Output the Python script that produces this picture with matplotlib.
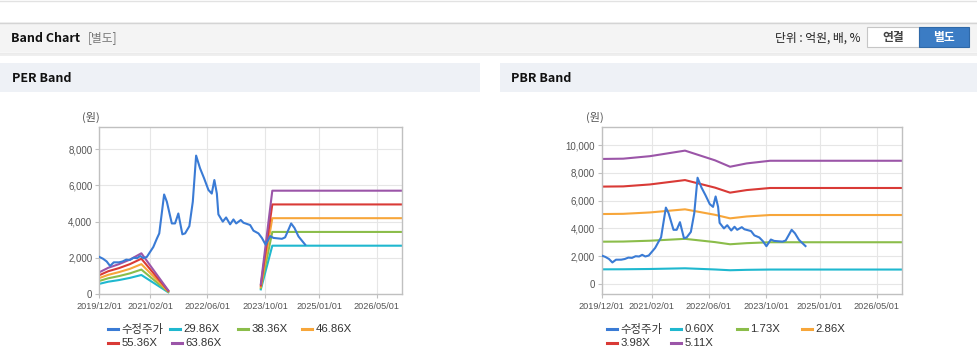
import matplotlib
matplotlib.use("Agg")
import matplotlib.pyplot as plt
import matplotlib.dates as mdates
from matplotlib.patches import Rectangle
from matplotlib.lines import Line2D
from matplotlib.ticker import FuncFormatter
import pandas as pd

plt.rcParams['font.family'] = ['Liberation Sans', 'Noto Sans CJK KR', 'DejaVu Sans']

# ---------------- data ----------------
price_dates = ["2019-12-01", "2020-01-01", "2020-02-01", "2020-03-01", "2020-04-01", "2020-05-15",
               "2020-06-15", "2020-07-15", "2020-08-15", "2020-09-15", "2020-10-15", "2020-11-10",
               "2020-12-07", "2021-01-05", "2021-01-25", "2021-03-01", "2021-03-30", "2021-04-20",
               "2021-05-31", "2021-06-23", "2021-08-04", "2021-08-31", "2021-09-28", "2021-11-01",
               "2021-11-24", "2021-12-30", "2022-01-28", "2022-02-25", "2022-03-30", "2022-05-03",
               "2022-06-09", "2022-07-07", "2022-07-29", "2022-08-19", "2022-09-01", "2022-10-08",
               "2022-11-05", "2022-12-09", "2023-01-06", "2023-01-29", "2023-03-09", "2023-03-31",
               "2023-05-27", "2023-06-24", "2023-08-05", "2023-09-03", "2023-10-05", "2023-11-12",
               "2023-12-10", "2024-02-19", "2024-03-17", "2024-04-14", "2024-05-07", "2024-06-04",
               "2024-07-08", "2024-09-02"]
price_values = [2050, 1950, 1800, 1550, 1750, 1750,
                1800, 1900, 1880, 2000, 1980, 2100,
                1980, 2050, 2250, 2600, 3050, 3350,
                5500, 5100, 3900, 3900, 4450, 3300,
                3350, 3750, 5100, 7650, 6950, 6400,
                5750, 5550, 6300, 5550, 4400, 4000,
                4230, 3850, 4120, 3900, 4090, 3940,
                3810, 3500, 3350, 3100, 2720, 3200,
                3100, 3050, 3130, 3550, 3900, 3650,
                3180, 2730]

per_labels = ["29.86X", "38.36X", "46.86X", "55.36X", "63.86X"]
per_dates_a = ["2019-12-01", "2020-02-15", "2020-05-15", "2020-08-15", "2020-11-20", "2021-07-05"]
per_a_29 = [560, 680, 770, 890, 1050, 95]
per_a_38 = [720, 870, 990, 1140, 1350, 120]
per_a_46 = [880, 1060, 1210, 1390, 1650, 150]
per_a_55 = [1040, 1260, 1430, 1650, 1950, 175]
per_a_63 = [1200, 1450, 1650, 1900, 2250, 200]
per_dates_b = ["2023-08-25", "2023-11-30", "2026-12-01"]
per_b_29 = [255, 2670, 2670]
per_b_38 = [325, 3430, 3430]
per_b_46 = [400, 4190, 4190]
per_b_55 = [470, 4950, 4950]
per_b_63 = [545, 5710, 5710]

pbr_labels = ["0.60X", "1.73X", "2.86X", "3.98X", "5.11X"]
pbr_dates = ["2019-12-01", "2020-06-01", "2021-01-15", "2021-11-10", "2022-07-24",
             "2022-11-29", "2023-04-20", "2023-11-05", "2026-12-01"]
pbr_060 = [1055, 1060, 1080, 1130, 1045, 990, 1020, 1040, 1040]
pbr_173 = [3045, 3055, 3115, 3250, 3015, 2860, 2940, 3005, 3005]
pbr_286 = [5035, 5050, 5150, 5375, 4980, 4725, 4860, 4965, 4965]
pbr_398 = [7010, 7025, 7165, 7480, 6935, 6575, 6760, 6910, 6910]
pbr_511 = [9000, 9020, 9200, 9600, 8900, 8440, 8680, 8870, 8870]

x_ticks = ["2019/12/01", "2021/02/01", "2022/06/01", "2023/10/01", "2025/01/01", "2026/05/01"]

# ---------------- style ----------------
C_PRICE = "#3a7bd5"
C_BANDS = ["#1fb8cf", "#8bbd4a", "#f7a63a", "#d93a36", "#9b55a8"]

W, H = 978, 361
fig = plt.figure(figsize=(W / 100, H / 100), dpi=100)
fig.patch.set_facecolor("white")


def fx(x):
    return x / W


def fy(y):
    return 1 - y / H


def rect(x0, y0, x1, y1, fc, ec="none", lw=0.0, z=0):
    fig.add_artist(Rectangle((fx(x0), fy(y1)), fx(x1) - fx(x0), fy(y0) - fy(y1),
                             transform=fig.transFigure, facecolor=fc, edgecolor=ec,
                             linewidth=lw, zorder=z))


def hline(x0, x1, y, color, lw=1.0):
    fig.add_artist(Line2D([fx(x0), fx(x1)], [fy(y), fy(y)], transform=fig.transFigure,
                          color=color, linewidth=lw))


KR = ['Noto Sans CJK KR', 'DejaVu Sans']

# top thin line
hline(0, W, 1, "#e2e2e2", 1.0)
# header band
rect(0, 22, W, 52, "#f4f4f4")
hline(0, W, 22.5, "#d4d4d4", 1.0)
hline(0, W, 52.5, "#dadada", 1.0)
hline(0, W, 54, "#eeeeee", 2.0)
fig.text(fx(11), fy(38), "Band Chart", fontsize=9, fontweight="bold", color="#111",
         va="center", ha="left", family=KR)
fig.text(fx(88), fy(38), "[별도]", fontsize=8.5, color="#777", va="center", ha="left", family=KR)
fig.text(fx(861), fy(38), "단위 : 억원, 배, %", fontsize=8.5, color="#222", va="center",
         ha="right", family=KR)
rect(867, 27, 919, 47, "white", "#c6c6c6", 0.8)
fig.text(fx(893), fy(37.5), "연결", fontsize=8.5, fontweight="bold", color="#444",
         va="center", ha="center", family=KR)
rect(919, 27, 969, 47, "#3b7cc4", "#2f69a8", 0.8)
fig.text(fx(944), fy(37.5), "별도", fontsize=8.5, fontweight="bold", color="white",
         va="center", ha="center", family=KR)

# panel headers
rect(0, 63, 480, 92, "#eef1f6")
rect(500, 63, W, 92, "#eef1f6")
fig.text(fx(12), fy(78), "PER Band", fontsize=9, fontweight="bold", color="#111",
         va="center", ha="left", family=KR)
fig.text(fx(511), fy(78), "PBR Band", fontsize=9, fontweight="bold", color="#111",
         va="center", ha="left", family=KR)

pdates = pd.to_datetime(price_dates)
xlim = (pd.Timestamp("2019-12-01"), pd.Timestamp("2026-12-01"))
tick_dates = pd.to_datetime(x_ticks, format="%Y/%m/%d")


def style_axes(ax, ylim, yticks):
    ax.set_xlim(*xlim)
    ax.set_ylim(*ylim)
    ax.set_yticks(yticks)
    ax.yaxis.set_major_formatter(FuncFormatter(lambda v, p: f"{int(v):,}"))
    ax.set_xticks(tick_dates)
    ax.set_xticklabels(x_ticks)
    ax.grid(True, color="#e6e6e6", linewidth=0.8)
    ax.set_axisbelow(True)
    for s in ax.spines.values():
        s.set_color("#c0c0c0")
        s.set_linewidth(1.0)
    ax.tick_params(axis="y", labelsize=7, colors="#c0c0c0", labelcolor="#555", length=3, pad=2)
    ax.tick_params(axis="x", labelsize=6.6, colors="#c0c0c0", labelcolor="#555", length=3, pad=3)


# ---------------- PER ----------------
ax1 = fig.add_axes([fx(99.3), fy(294), (402.3 - 99.3) / W, (294 - 127) / H])
ax1.plot(pdates, price_values, color=C_PRICE, lw=1.5, zorder=3)
per_a = [per_a_29, per_a_38, per_a_46, per_a_55, per_a_63]
per_b = [per_b_29, per_b_38, per_b_46, per_b_55, per_b_63]
for c, a, b in zip(C_BANDS, per_a, per_b):
    ax1.plot(pd.to_datetime(per_dates_a), a, color=c, lw=1.5, zorder=2)
    ax1.plot(pd.to_datetime(per_dates_b), b, color=c, lw=1.5, zorder=2)
style_axes(ax1, (0, 9230), [0, 2000, 4000, 6000, 8000])
fig.text(fx(82), fy(117), "(원)", fontsize=8, color="#555", va="center", ha="left", family=KR)

# ---------------- PBR ----------------
ax2 = fig.add_axes([fx(601.7), fy(294), (901.7 - 601.7) / W, (294 - 127) / H])
ax2.plot(pdates, price_values, color=C_PRICE, lw=1.5, zorder=3)
for c, b in zip(C_BANDS, [pbr_060, pbr_173, pbr_286, pbr_398, pbr_511]):
    ax2.plot(pd.to_datetime(pbr_dates), b, color=c, lw=1.5, zorder=2)
style_axes(ax2, (-720, 11300), [0, 2000, 4000, 6000, 8000, 10000])
fig.text(fx(586), fy(117), "(원)", fontsize=8, color="#555", va="center", ha="left", family=KR)


# ---------------- legends ----------------
def legend_item(x, y, color, label):
    fig.add_artist(Line2D([fx(x), fx(x + 10)], [fy(y), fy(y)], transform=fig.transFigure,
                          color=color, linewidth=2.2))
    fig.text(fx(x + 13.5), fy(y), label, fontsize=8.2, color="#333", va="center", ha="left")


per_pos = [(108, 329), (170, 329), (238, 329), (302, 329), (108, 343), (172, 343)]
per_items = [("수정주가", C_PRICE)] + list(zip(per_labels, C_BANDS))
for (x, y), (lab, c) in zip(per_pos, per_items):
    legend_item(x, y, c, lab)

pbr_pos = [(607, 329), (671, 329), (737, 329), (802, 329), (607, 343), (671, 343)]
pbr_items = [("수정주가", C_PRICE)] + list(zip(pbr_labels, C_BANDS))
for (x, y), (lab, c) in zip(pbr_pos, pbr_items):
    legend_item(x, y, c, lab)

fig.savefig("out.png", dpi=100)
